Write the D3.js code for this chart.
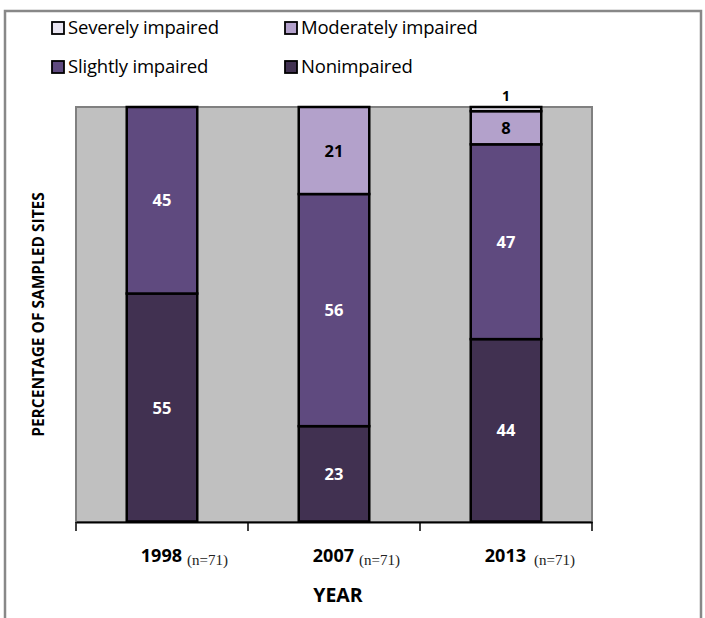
<!DOCTYPE html>
<html lang="en">
<head>
    <meta charset="UTF-8">
    <title>Impairment by year</title>
    <script src="https://d3js.org/d3.v7.min.js"></script>
    <style>
        body { margin: 0; background: #fff; }
        svg { display: block; }
    </style>
</head>
<body>
    <svg></svg>

    <script>
        const years = ['1998', '2007', '2013'];
        const sampleSizes = ['(n=71)', '(n=71)', '(n=71)'];
        const categories = ['Nonimpaired', 'Slightly impaired', 'Moderately impaired', 'Severely impaired'];
        const nonimpaired = [55, 23, 44];
        const slightly = [45, 56, 47];
        const moderately = [0, 21, 8];
        const severely = [0, 0, 1];

        const width = 705;
        const height = 618;
        const margin = {'top': 107, 'bottom': 96, 'left': 76, 'right': 113};
        const font = "'Open Sans', sans-serif";

        const colors = {
            'Nonimpaired': '#413151',
            'Slightly impaired': '#5f4a7f',
            'Moderately impaired': '#b3a1cb',
            'Severely impaired': '#e9e5f1'
        };

        const svg = d3.select('svg')
            .attr('width', width)
            .attr('height', height)
            .attr('viewBox', [0, 0, width, height]);

        // outer frame
        svg.append('path')
            .attr('d', `M5,${height + 5} V11 H701 V${height + 5}`)
            .attr('fill', 'none')
            .attr('stroke', '#888')
            .attr('stroke-width', 2.5);

        const x_scale = d3.scaleBand()
            .domain(years)
            .range([margin.left, width - margin.right])
            .paddingInner(0.59)
            .paddingOuter(0.295);
        const x_ticks = d3.scaleBand()
            .domain(years)
            .range([margin.left, width - margin.right]);
        const y_scale = d3.scaleLinear()
            .domain([0, 100])
            .range([height - margin.bottom - 0.5, margin.top]);

        // plot background
        svg.append('rect')
            .attr('x', margin.left)
            .attr('y', margin.top)
            .attr('width', width - margin.left - margin.right)
            .attr('height', height - margin.top - margin.bottom)
            .attr('fill', '#c0c0c0')
            .attr('stroke', '#808080')
            .attr('stroke-width', 2);

        const rows = years.map((y, i) => ({
            year: y,
            'Nonimpaired': nonimpaired[i],
            'Slightly impaired': slightly[i],
            'Moderately impaired': moderately[i],
            'Severely impaired': severely[i]
        }));

        const stack = d3.stack().keys(categories);
        const series = stack(rows);

        const layer = svg.selectAll('g.layer')
            .data(series)
            .join('g')
            .attr('class', 'layer')
            .attr('fill', d => colors[d.key]);

        layer.selectAll('rect')
            .data(d => d.filter(p => p[1] - p[0] > 0))
            .join('rect')
            .attr('x', d => x_scale(d.data.year))
            .attr('y', d => y_scale(d[1]))
            .attr('width', x_scale.bandwidth())
            .attr('height', d => y_scale(d[0]) - y_scale(d[1]))
            .attr('stroke', '#000')
            .attr('stroke-width', 2.5);

        // value labels
        series.forEach(s => {
            s.forEach(p => {
                const v = p[1] - p[0];
                if (v <= 0) return;
                const dark = s.key === 'Nonimpaired' || s.key === 'Slightly impaired';
                let ty = (y_scale(p[0]) + y_scale(p[1])) / 2 + 6;
                if (v < 3) ty = y_scale(p[1]) - 6;
                svg.append('text')
                    .attr('x', x_scale(p.data.year) + x_scale.bandwidth() / 2)
                    .attr('y', ty)
                    .attr('text-anchor', 'middle')
                    .attr('font-family', font)
                    .attr('font-weight', 'bold')
                    .attr('font-size', v < 3 ? 14 : 16.5)
                    .attr('fill', dark ? '#fff' : '#000')
                    .text(v);
            });
        });

        // x axis
        const x_axis = d3.axisBottom(x_ticks).tickSize(0).tickFormat('');
        const axisG = svg.append('g')
            .attr('transform', `translate(0,${height - margin.bottom})`)
            .call(x_axis);
        axisG.select('.domain').attr('stroke', '#000').attr('stroke-width', 2);

        const tickPos = years.map(y => x_ticks(y)).concat([width - margin.right]);
        axisG.selectAll('line.t')
            .data(tickPos)
            .join('line')
            .attr('class', 't')
            .attr('x1', d => d).attr('x2', d => d)
            .attr('y1', 0).attr('y2', 9)
            .attr('stroke', '#000')
            .attr('stroke-width', 1.5);

        const mid = d => x_scale(d) + x_scale.bandwidth() / 2;

        svg.selectAll('text.year')
            .data(years)
            .join('text')
            .attr('class', 'year')
            .attr('x', d => mid(d) + 20)
            .attr('y', 562)
            .attr('text-anchor', 'end')
            .attr('font-family', font)
            .attr('font-weight', 'bold')
            .attr('font-size', 18)
            .attr('fill', '#000')
            .text(d => d);

        svg.selectAll('text.n')
            .data(years)
            .join('text')
            .attr('class', 'n')
            .attr('x', (d, i) => mid(d) + (i === 2 ? 28 : 25))
            .attr('y', 565)
            .attr('font-family', "'Liberation Serif', serif")
            .attr('font-size', 15)
            .attr('fill', '#222')
            .text((d, i) => sampleSizes[i]);

        // axis titles
        svg.append('text')
            .attr('x', 338)
            .attr('y', 602)
            .attr('text-anchor', 'middle')
            .attr('font-family', font)
            .attr('font-weight', 'bold')
            .attr('font-size', 19.5)
            .text('YEAR');

        svg.append('text')
            .attr('transform', `translate(44,${(margin.top + height - margin.bottom) / 2}) rotate(-90)`)
            .attr('text-anchor', 'middle')
            .attr('font-family', font)
            .attr('font-weight', 'bold')
            .attr('font-size', 15.5)
            .text('PERCENTAGE OF SAMPLED SITES');

        // legend
        const legendItems = [
            {key: 'Severely impaired', x: 52, y: 34},
            {key: 'Moderately impaired', x: 285, y: 34},
            {key: 'Slightly impaired', x: 52, y: 73},
            {key: 'Nonimpaired', x: 285, y: 73}
        ];
        const lg = svg.selectAll('g.legend')
            .data(legendItems)
            .join('g')
            .attr('class', 'legend')
            .attr('transform', d => `translate(${d.x},${d.y})`);
        lg.append('rect')
            .attr('x', 0).attr('y', -12)
            .attr('width', 12).attr('height', 12)
            .attr('fill', d => colors[d.key])
            .attr('stroke', '#000')
            .attr('stroke-width', 1.8);
        lg.append('text')
            .attr('x', 16)
            .attr('y', 0)
            .attr('font-family', font)
            .attr('font-size', 18.5)
            .attr('letter-spacing', -0.2)
            .text(d => d.key);
    </script>
</body>
</html>
